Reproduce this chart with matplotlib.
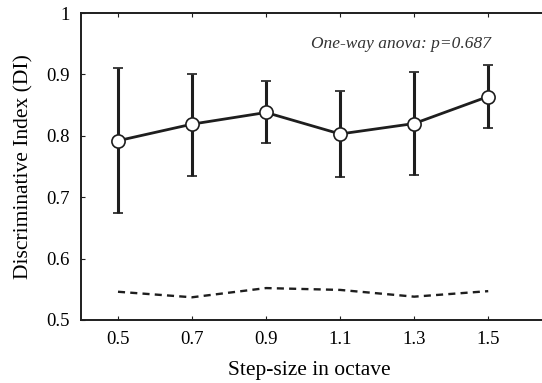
import matplotlib
matplotlib.use('Agg')
import matplotlib.pyplot as plt

plt.rcParams['font.family'] = ['Liberation Serif', 'DejaVu Serif']

step_size = [0.5, 0.7, 0.9, 1.1, 1.3, 1.5]
di_mean = [0.792, 0.819, 0.838, 0.803, 0.820, 0.864]
di_upper = [0.911, 0.901, 0.889, 0.873, 0.904, 0.915]
di_lower = [0.674, 0.735, 0.788, 0.733, 0.736, 0.813]
chance_di = [0.546, 0.537, 0.552, 0.549, 0.538, 0.547]
x_ticks = [0.5, 0.7, 0.9, 1.1, 1.3, 1.5]
y_ticks = [0.5, 0.6, 0.7, 0.8, 0.9, 1.0]
y_ticklabels = ['0.5', '0.6', '0.7', '0.8', '0.9', '1']

err_low = [m - l for m, l in zip(di_mean, di_lower)]
err_high = [u - m for m, u in zip(di_mean, di_upper)]

fig = plt.figure(figsize=(5.42, 3.83), dpi=100)
ax = fig.add_axes([0.1494, 0.1645, 0.888, 0.8015])

ink = '#1e1e1e'
ax.plot(step_size, chance_di, color=ink, lw=1.7, linestyle=(0, (3, 2.2)))
ax.errorbar(step_size, di_mean, yerr=[err_low, err_high], color=ink, lw=2.0,
            elinewidth=2.2, capsize=3.5, capthick=2.2,
            marker='o', markersize=9.5, markerfacecolor='white',
            markeredgecolor=ink, markeredgewidth=1.2, zorder=3)

ax.set_xlim(0.4, 1.7)
ax.set_ylim(0.5, 1.0)
ax.set_xticks(x_ticks)
ax.set_xticklabels([str(v) for v in x_ticks])
ax.set_yticks(y_ticks)
ax.set_yticklabels(y_ticklabels)
ax.tick_params(direction='in', length=3, width=0.8, color=ink,
               labelsize=13.5, top=True, right=True, pad=8)
for s in ax.spines.values():
    s.set_color(ink)
    s.set_linewidth(1.4)

ax.set_xlabel('Step-size in octave', fontsize=15.5)
ax.xaxis.set_label_coords(0.474, -0.135)
ax.set_ylabel('Discriminative Index (DI)', fontsize=15.5)
ax.yaxis.set_label_coords(-0.098, 0.5)

ax.text(0.852, 0.9, 'One-way anova: p=0.687',
        transform=ax.transAxes, fontsize=12.5, style='italic',
        ha='right', va='center', color='#333333')

fig.savefig('out.png', dpi=100)
